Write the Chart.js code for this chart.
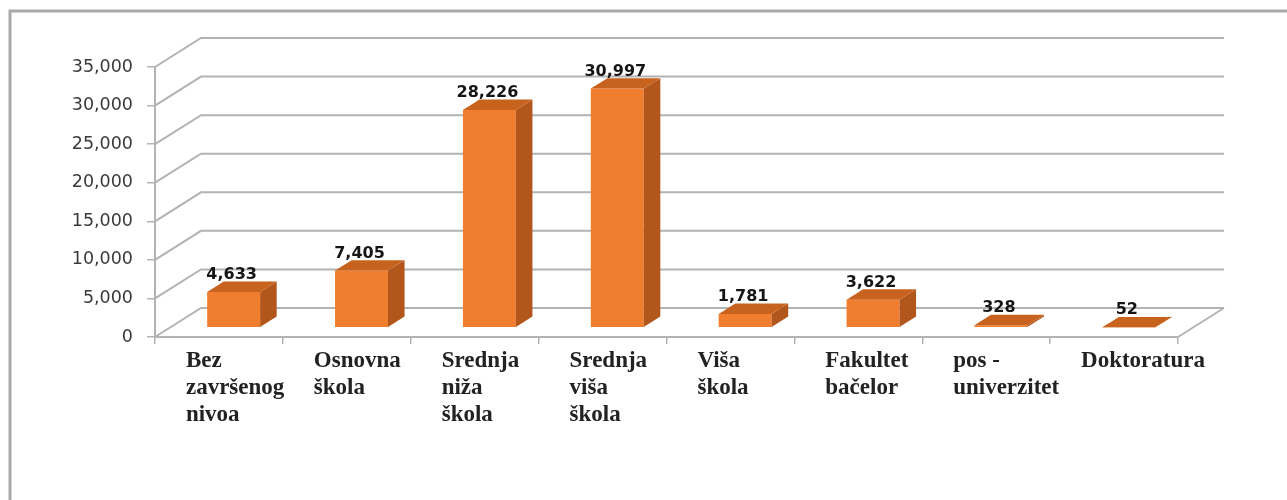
<!DOCTYPE html>
<html>
<head>
<meta charset="utf-8">
<script src="https://cdn.jsdelivr.net/npm/chart.js@4.4.1/dist/chart.umd.min.js"></script>
<style>
html, body { margin: 0; padding: 0; background: #fff; overflow: hidden; }
</style>
</head>
<body>
<canvas id="myChart" width="1287" height="500"></canvas>
<script>
const categories = [
    ['Bez', 'završenog', 'nivoa'],
    ['Osnovna', 'škola'],
    ['Srednja', 'niža', 'škola'],
    ['Srednja', 'viša', 'škola'],
    ['Viša', 'škola'],
    ['Fakultet', 'bačelor'],
    ['pos -', 'univerzitet'],
    ['Doktoratura']
];
const values = [4633, 7405, 28226, 30997, 1781, 3622, 328, 52];
const yTicks = [0, 5000, 10000, 15000, 20000, 25000, 30000, 35000];

// 3D look: depth of the whole box and where the bars sit inside it
const wallDepth = { x: 46, y: -29 };
const barFront = 0.32;
const barDepth = 0.36;
const gridColor = '#b3b3b3';
const colors = { front: '#f07e2e', side: '#b3561b', top: '#c8631f' };

function fmt(v) {
    return v.toLocaleString('en-US');
}

const box3d = {
    id: 'box3d',
    beforeDraw(chart) {
        const c = chart.ctx;
        c.save();
        c.strokeStyle = '#a9a9a9';
        c.lineWidth = 3;
        c.beginPath();
        c.moveTo(10, 500);
        c.lineTo(10, 11);
        c.lineTo(1287, 11);
        c.stroke();
        c.restore();
    },
    beforeDatasetsDraw(chart) {
        const c = chart.ctx;
        const a = chart.chartArea;
        const y = chart.scales.y;
        c.save();
        c.strokeStyle = gridColor;
        c.lineWidth = 2;
        yTicks.forEach(t => {
            const py = y.getPixelForValue(t);
            c.beginPath();
            c.moveTo(a.left, py);
            c.lineTo(a.left + wallDepth.x, py + wallDepth.y);
            c.lineTo(a.right + wallDepth.x, py + wallDepth.y);
            c.stroke();
        });
        // right edge of the floor
        c.beginPath();
        c.moveTo(a.right, a.bottom);
        c.lineTo(a.right + wallDepth.x, a.bottom + wallDepth.y);
        c.stroke();
        c.restore();
        c.save();
        c.translate(wallDepth.x * barFront, wallDepth.y * barFront);
    },
    afterDatasetsDraw(chart) {
        const c = chart.ctx;
        const dx = wallDepth.x * barDepth, dy = wallDepth.y * barDepth;
        const meta = chart.getDatasetMeta(0);
        meta.data.forEach(bar => {
            const l = bar.x - bar.width / 2, r = bar.x + bar.width / 2;
            const t = bar.y, b = bar.base;
            c.fillStyle = colors.side;
            c.beginPath();
            c.moveTo(r, t);
            c.lineTo(r + dx, t + dy);
            c.lineTo(r + dx, b + dy);
            c.lineTo(r, b);
            c.closePath();
            c.fill();
            c.fillStyle = colors.top;
            c.beginPath();
            c.moveTo(l, t);
            c.lineTo(l + dx, t + dy);
            c.lineTo(r + dx, t + dy);
            c.lineTo(r, t);
            c.closePath();
            c.fill();
        });
        c.restore();

        const ox = wallDepth.x * barFront, oy = wallDepth.y * barFront;
        c.save();
        c.font = 'bold 16px "DejaVu Sans"';
        c.fillStyle = '#151515';
        c.textAlign = 'center';
        c.textBaseline = 'alphabetic';
        meta.data.forEach((bar, i) => {
            c.fillText(fmt(values[i]), bar.x + ox - 2, bar.y + oy + dy - 2.5);
        });
        c.restore();
    }
};

const ctx = document.getElementById('myChart');
new Chart(ctx, {
    type: 'bar',
    data: {
        labels: categories,
        datasets: [{
            data: values,
            backgroundColor: colors.front,
            borderWidth: 0,
            categoryPercentage: 1,
            barPercentage: 0.414,
            clip: false
        }]
    },
    options: {
        responsive: false,
        animation: false,
        devicePixelRatio: 1,
        layout: { padding: { left: 0, top: 67, right: 109, bottom: 0 } },
        plugins: { legend: { display: false }, tooltip: { enabled: false } },
        scales: {
            x: {
                grid: { display: true, drawOnChartArea: false, offset: true, color: gridColor, lineWidth: 1.5, tickLength: 7 },
                border: { display: true, color: gridColor, width: 2 },
                ticks: {
                    autoSkip: false,
                    maxRotation: 0,
                    align: 'start',
                    labelOffset: -33,
                    padding: 4,
                    color: '#222',
                    font: { family: 'Liberation Serif', size: 23, weight: 'bold', lineHeight: '27px' }
                },
                afterFit(s) { s.height = 163; s.paddingLeft = 0; s.paddingRight = 0; }
            },
            y: {
                min: yTicks[0],
                max: yTicks[yTicks.length - 1],
                grid: { display: true, drawOnChartArea: false, color: gridColor, lineWidth: 1.5, tickLength: 8 },
                border: { display: true, color: gridColor, width: 2 },
                ticks: {
                    stepSize: yTicks[1] - yTicks[0],
                    padding: 14,
                    color: '#3a3a3a',
                    font: { family: 'DejaVu Sans', size: 17.5 },
                    callback: v => fmt(v)
                },
                afterFit(s) { s.width = 155; s.paddingTop = 0; s.paddingBottom = 0; }
            }
        }
    },
    plugins: [box3d]
});
</script>
</body>
</html>
